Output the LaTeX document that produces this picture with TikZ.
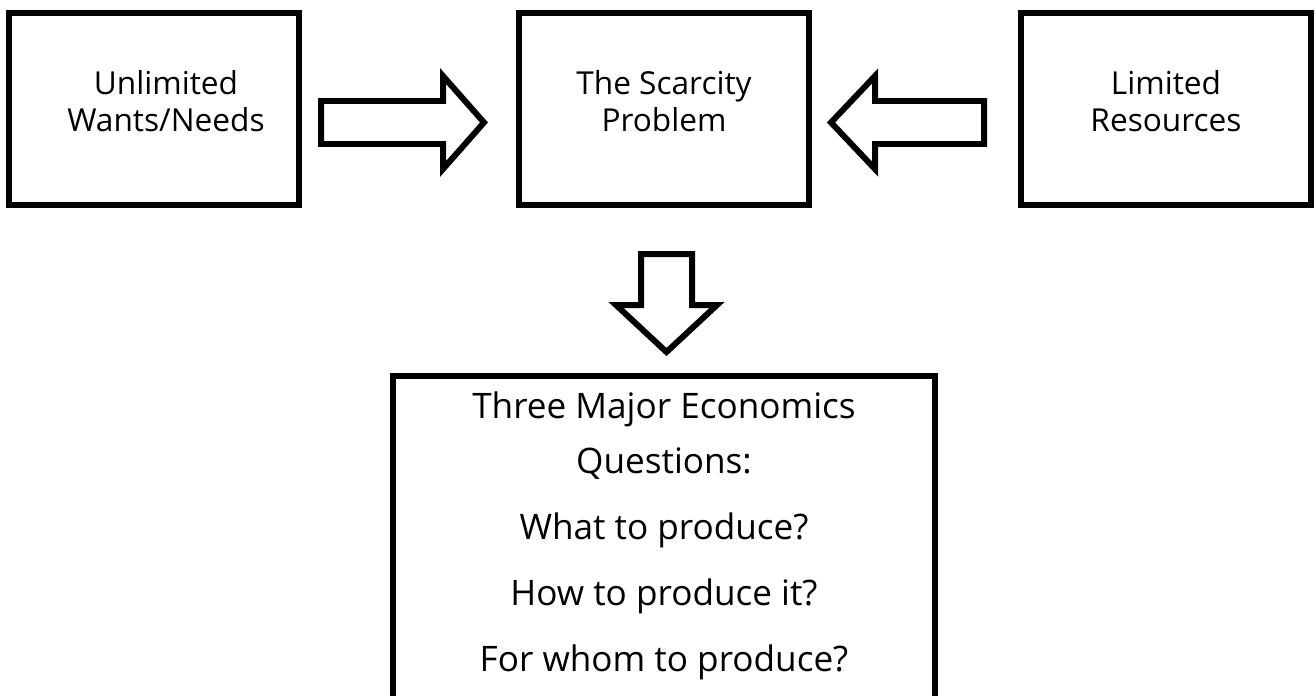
\documentclass[tikz,border=0pt]{standalone}
\usepackage{fontspec}
\setmainfont{Open Sans}
\usetikzlibrary{positioning}

\begin{document}
\begin{tikzpicture}[x=0.02cm, y=-0.02cm,
  box/.style={draw, line width=0.12cm, minimum width=5.8cm, minimum height=3.84cm,
    inner sep=0pt, align=center, text depth=0.32cm, font=\fontsize{18}{21}\selectfont},
  bigbox/.style={draw, line width=0.12cm, minimum width=10.84cm, inner ysep=0.32cm,
    anchor=north, align=center, text depth=6cm, font=\fontsize{20}{31.3}\selectfont},
  blockarrow/.style={draw, line width=0.12cm, line join=miter, fill=white}]
  \clip (0,0) rectangle (1315,696);
  % Les trois cases du haut
  \node[box] (wants) at (154,109)
    {\hspace*{0.48cm}Unlimited\\\hspace*{0.48cm}Wants/Needs};
  \node[box] (scarcity) at (664,109) {The Scarcity\\Problem};
  \node[box] (resources) at (1166,109) {Limited\\Resources};
  % Fleche vers la droite
  \draw[blockarrow] (321,101) -- (443,101) -- (443,76) -- (484,122.5)
    -- (443,169) -- (443,144) -- (321,144) -- cycle;
  % Fleche vers la gauche
  \draw[blockarrow] (984,101) -- (875,101) -- (875,76) -- (831,122.5)
    -- (875,169) -- (875,144) -- (984,144) -- cycle;
  % Fleche vers le bas
  \draw[blockarrow] (641,254) -- (692,254) -- (692,305) -- (717,305)
    -- (666.5,352) -- (616,305) -- (641,305) -- cycle;
  % Case du bas (coupee par le bord)
  \node[bigbox] (questions) at (664,373)
    {Three Major Economics\\Questions:\\[0.22cm]
     What to produce?\\[0.22cm]
     How to produce it?\\[0.22cm]
     For whom to produce?};
\end{tikzpicture}
\end{document}
